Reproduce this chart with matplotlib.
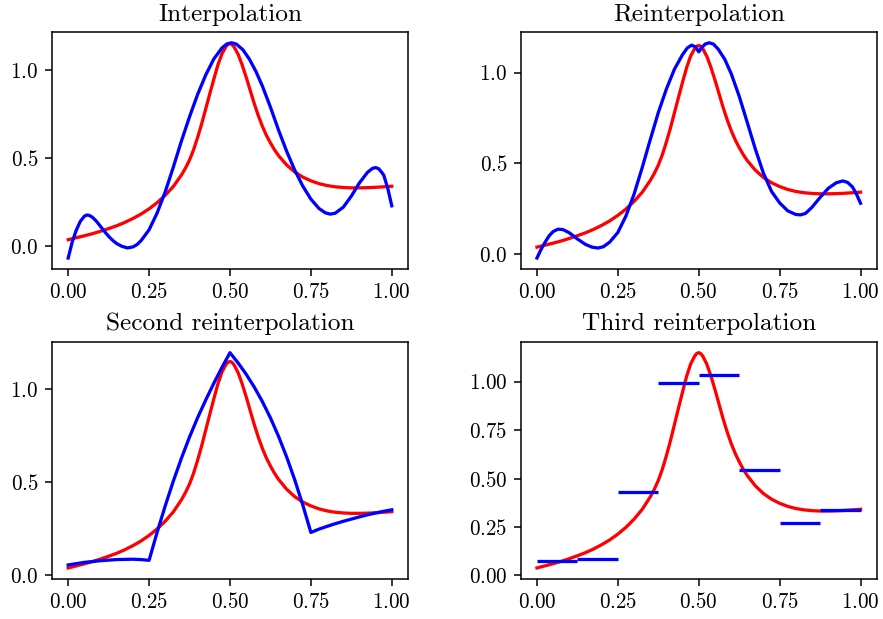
import numpy as np
import matplotlib
matplotlib.use("Agg")
import matplotlib.pyplot as plt

plt.rcParams['font.family'] = 'cmr10'
plt.rcParams['font.size'] = 11
plt.rcParams['mathtext.fontset'] = 'cm'
plt.rcParams['axes.formatter.use_mathtext'] = True
plt.rcParams['lines.linewidth'] = 1.7

# target function (red)
x_true = [0.0, 0.025, 0.05, 0.075, 0.1, 0.125, 0.15, 0.175, 0.2, 0.225,
          0.25, 0.275, 0.3, 0.325, 0.35, 0.3625, 0.375, 0.3875, 0.4, 0.4125,
          0.425, 0.4375, 0.45, 0.4625, 0.475, 0.4875, 0.4938, 0.5, 0.5062, 0.5125,
          0.525, 0.5375, 0.55, 0.5625, 0.575, 0.5875, 0.6, 0.6125, 0.625, 0.6375,
          0.65, 0.675, 0.7, 0.725, 0.75, 0.775, 0.8, 0.825, 0.85, 0.875,
          0.9, 0.925, 0.95, 0.975, 1.0]
y_true = [0.038, 0.049, 0.060, 0.072, 0.086, 0.101, 0.117, 0.136, 0.158, 0.183,
          0.213, 0.248, 0.290, 0.340, 0.405, 0.444, 0.490, 0.548, 0.618, 0.695,
          0.780, 0.865, 0.948, 1.028, 1.092, 1.133, 1.146, 1.150, 1.145, 1.132,
          1.090, 1.030, 0.960, 0.885, 0.810, 0.742, 0.682, 0.630, 0.587, 0.548,
          0.515, 0.462, 0.422, 0.393, 0.372, 0.356, 0.345, 0.338, 0.334, 0.332,
          0.332, 0.333, 0.335, 0.338, 0.341]

# interpolation (blue, top left)
x_interp = [0.0, 0.0125, 0.025, 0.0375, 0.05, 0.0575, 0.065, 0.075, 0.0875, 0.1,
            0.1125, 0.125, 0.1375, 0.15, 0.165, 0.183, 0.2, 0.2125, 0.225, 0.25,
            0.275, 0.3, 0.325, 0.35, 0.375, 0.4, 0.425, 0.45, 0.475, 0.49,
            0.505, 0.52, 0.54, 0.56, 0.58, 0.6, 0.625, 0.65, 0.675, 0.7,
            0.725, 0.75, 0.775, 0.795, 0.81, 0.825, 0.85, 0.875, 0.9, 0.925,
            0.94, 0.95, 0.96, 0.975, 0.9875, 1.0]
y_interp = [-0.066, 0.025, 0.092, 0.142, 0.171, 0.178, 0.176, 0.165, 0.142, 0.113,
            0.084, 0.057, 0.034, 0.016, 0.001, -0.009, -0.003, 0.010, 0.032, 0.094,
            0.190, 0.310, 0.450, 0.598, 0.735, 0.862, 0.972, 1.063, 1.125, 1.148,
            1.155, 1.147, 1.115, 1.062, 0.993, 0.910, 0.790, 0.660, 0.540, 0.433,
            0.342, 0.268, 0.215, 0.190, 0.183, 0.188, 0.222, 0.285, 0.360, 0.420,
            0.442, 0.447, 0.440, 0.405, 0.330, 0.230]

# reinterpolation (blue, top right)
x_reinterp = [0.0, 0.0125, 0.025, 0.0375, 0.05, 0.065, 0.08, 0.1, 0.125, 0.15,
              0.17, 0.188, 0.205, 0.225, 0.25, 0.275, 0.3, 0.325, 0.35, 0.375,
              0.4, 0.425, 0.45, 0.465, 0.478, 0.49, 0.5, 0.51, 0.52, 0.532,
              0.545, 0.56, 0.58, 0.6, 0.625, 0.65, 0.675, 0.7, 0.725, 0.75,
              0.775, 0.8, 0.815, 0.83, 0.85, 0.875, 0.9, 0.925, 0.945, 0.96,
              0.975, 0.9875, 1.0]
y_reinterp = [-0.022, 0.025, 0.065, 0.100, 0.124, 0.137, 0.135, 0.117, 0.083, 0.053,
              0.038, 0.033, 0.040, 0.066, 0.119, 0.210, 0.330, 0.475, 0.630, 0.780,
              0.910, 1.020, 1.100, 1.137, 1.152, 1.142, 1.115, 1.140, 1.158, 1.165,
              1.158, 1.130, 1.075, 0.996, 0.870, 0.725, 0.578, 0.445, 0.345, 0.282,
              0.238, 0.218, 0.216, 0.224, 0.258, 0.312, 0.362, 0.393, 0.403, 0.395,
              0.370, 0.330, 0.280]

# second reinterpolation (blue, bottom left), kinks at 0.25, 0.5, 0.75
x_second = [0.0, 0.05, 0.1, 0.15, 0.2, 0.225, 0.25, 0.275, 0.3, 0.325,
            0.35, 0.375, 0.4, 0.425, 0.45, 0.475, 0.5, 0.525, 0.55, 0.575,
            0.6, 0.625, 0.65, 0.675, 0.7, 0.725, 0.75, 0.775, 0.8, 0.825,
            0.85, 0.875, 0.9, 0.925, 0.95, 0.975, 1.0]
y_second = [0.054, 0.068, 0.077, 0.083, 0.085, 0.083, 0.079, 0.231, 0.373, 0.506,
            0.629, 0.743, 0.847, 0.942, 1.032, 1.117, 1.197, 1.142, 1.081, 1.012,
            0.934, 0.846, 0.747, 0.636, 0.513, 0.377, 0.229, 0.247, 0.262, 0.276,
            0.289, 0.301, 0.313, 0.324, 0.334, 0.343, 0.351]

# third reinterpolation (blue, bottom right), piecewise constant
step_left = [0.0, 0.125, 0.25, 0.375, 0.5, 0.625, 0.75, 0.875]
step_right = [0.125, 0.25, 0.375, 0.5, 0.625, 0.75, 0.875, 1.0]
step_values = [0.072, 0.084, 0.432, 0.995, 1.033, 0.544, 0.272, 0.336]

x_ticks = [0.0, 0.25, 0.5, 0.75, 1.0]
y_ticks_coarse = [0.0, 0.5, 1.0]
y_ticks_fine = [0.0, 0.25, 0.5, 0.75, 1.0]

fig, axes = plt.subplots(2, 2, figsize=(883 / 138, 619 / 138), dpi=138)
fig.subplots_adjust(left=0.0589, right=0.9929, bottom=0.0651, top=0.9483,
                    wspace=0.317, hspace=0.309)

ax = axes[0, 0]
ax.plot(x_true, y_true, color='red')
ax.plot(x_interp, y_interp, color='blue')
ax.set_title("Interpolation")
ax.set_yticks(y_ticks_coarse)

ax = axes[0, 1]
ax.plot(x_true, y_true, color='red')
ax.plot(x_reinterp, y_reinterp, color='blue')
ax.set_title("Reinterpolation")
ax.set_yticks(y_ticks_coarse)

ax = axes[1, 0]
ax.plot(x_true, y_true, color='red')
ax.plot(x_second, y_second, color='blue')
ax.set_title("Second reinterpolation")
ax.set_yticks(y_ticks_coarse)

ax = axes[1, 1]
ax.plot(x_true, y_true, color='red')
ax.hlines(step_values, step_left, step_right, color='blue', linewidth=1.7)
ax.set_title("Third reinterpolation")
ax.set_yticks(y_ticks_fine)

for ax in axes.flat:
    ax.set_xticks(x_ticks)

fig.savefig("out.png", dpi=138)
